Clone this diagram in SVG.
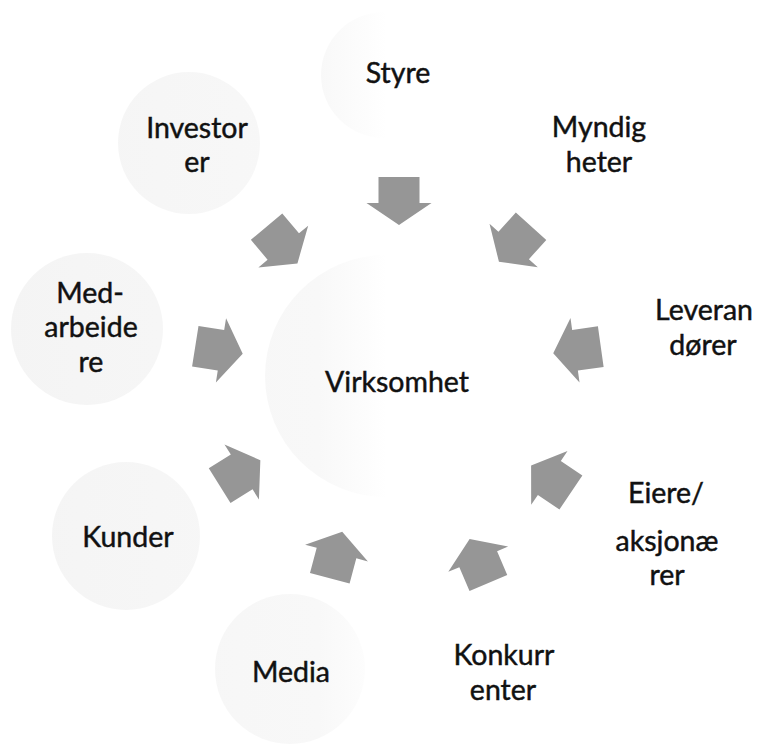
<svg xmlns="http://www.w3.org/2000/svg" xmlns:xlink="http://www.w3.org/1999/xlink" width="758" height="745" viewBox="0 0 758 745">
  <style>
    .lbl { font-family: Lato, "Liberation Sans", sans-serif; font-size: 28.5px; fill: #111; stroke: #111; stroke-width: 0.45px; text-anchor: middle; }
    .circ { fill: url(#shade); stroke: none; }
    .arrow { fill: #969696; stroke: none; }
  </style>
  <defs>
    <linearGradient id="shade" gradientUnits="userSpaceOnUse" x1="0" y1="0" x2="758" y2="0">
      <stop offset="0" stop-color="#f4f4f4"/>
      <stop offset="0.42" stop-color="#f8f8f8"/>
      <stop offset="0.51" stop-color="#ffffff"/>
      <stop offset="1" stop-color="#ffffff"/>
    </linearGradient>
    <path id="arr" d="M-24,-20.5 L2,-20.5 L2,-32.5 L24,0 L2,32.5 L2,20.5 L-24,20.5 Z"/>
  </defs>
  <rect width="758" height="745" fill="#ffffff"/>

  <g id="node-virksomhet">
    <circle class="circ" cx="386" cy="376" r="121"/>
    <text class="lbl" x="397" y="392">Virksomhet</text>
  </g>
  <g id="node-styre">
    <circle class="circ" cx="384" cy="75" r="63"/>
    <text class="lbl" x="398" y="83">Styre</text>
  </g>
  <g id="node-myndigheter">
    <circle class="circ" cx="599" cy="150" r="70"/>
    <text class="lbl" x="599" y="137">Myndig</text>
    <text class="lbl" x="599" y="172">heter</text>
  </g>
  <g id="node-leverandorer">
    <circle class="circ" cx="700" cy="334" r="72"/>
    <text class="lbl" x="704" y="320">Leveran</text>
    <text class="lbl" x="703" y="355">dører</text>
  </g>
  <g id="node-eiere">
    <circle class="circ" cx="666" cy="538" r="74"/>
    <text class="lbl" x="666" y="503">Eiere/</text>
    <text class="lbl" x="667" y="551">aksjonæ</text>
    <text class="lbl" x="667" y="585">rer</text>
  </g>
  <g id="node-konkurrenter">
    <circle class="circ" cx="504" cy="672" r="72"/>
    <text class="lbl" x="504" y="665">Konkurr</text>
    <text class="lbl" x="503" y="700">enter</text>
  </g>
  <g id="node-media">
    <circle class="circ" cx="290" cy="669" r="75"/>
    <text class="lbl" x="291" y="682">Media</text>
  </g>
  <g id="node-kunder">
    <circle class="circ" cx="126" cy="536" r="74"/>
    <text class="lbl" x="128" y="547">Kunder</text>
  </g>
  <g id="node-medarbeidere">
    <circle class="circ" cx="87" cy="329" r="76"/>
    <text class="lbl" x="90" y="303">Med-</text>
    <text class="lbl" x="91" y="337">arbeide</text>
    <text class="lbl" x="91" y="372">re</text>
  </g>
  <g id="node-investorer">
    <circle class="circ" cx="189" cy="143" r="71"/>
    <text class="lbl" x="197" y="138">Investor</text>
    <text class="lbl" x="197" y="172">er</text>
  </g>

  <g id="connectors">
    <use class="arrow" xlink:href="#arr" href="#arr" transform="translate(399,201) rotate(90)"/>
    <use class="arrow" xlink:href="#arr" href="#arr" transform="translate(282,245) rotate(50)"/>
    <use class="arrow" xlink:href="#arr" href="#arr" transform="translate(515,244) rotate(132)"/>
    <use class="arrow" xlink:href="#arr" href="#arr" transform="translate(577,350) rotate(172)"/>
    <use class="arrow" xlink:href="#arr" href="#arr" transform="translate(551,479) rotate(214)"/>
    <use class="arrow" xlink:href="#arr" href="#arr" transform="translate(479,561) rotate(247)"/>
    <use class="arrow" xlink:href="#arr" href="#arr" transform="translate(336,555) rotate(285)"/>
    <use class="arrow" xlink:href="#arr" href="#arr" transform="translate(240,473) rotate(328)"/>
    <use class="arrow" xlink:href="#arr" href="#arr" transform="translate(219,350) rotate(9)"/>
  </g>
</svg>
